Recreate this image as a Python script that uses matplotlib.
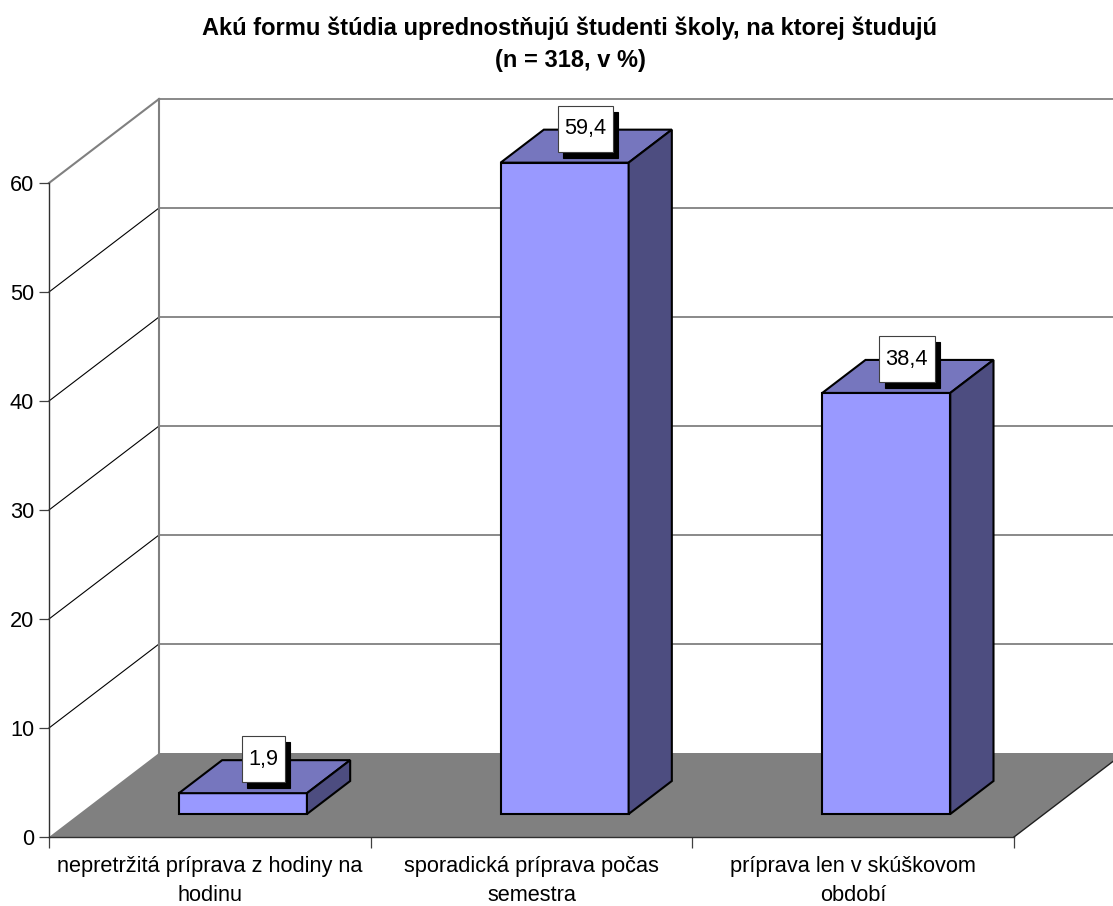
# to run: python3 plot.py
# Excel style 3D column chart, the depth is faked with an oblique projection.

import matplotlib
matplotlib.use('Agg')
from matplotlib import pyplot as plt
from matplotlib.patches import Rectangle

plt.rcParams['font.family'] = ['Liberation Sans', 'DejaVu Sans']

# data
title = 'Akú formu štúdia uprednostňujú študenti školy, na ktorej študujú\n(n = 318, v %)'
categories = ['nepretržitá príprava z hodiny na\nhodinu',
              'sporadická príprava počas\nsemestra',
              'príprava len v skúškovom\nobdobí']
values = [1.9, 59.4, 38.4]
labels = ['1,9', '59,4', '38,4']
y_ticks = [0, 10, 20, 30, 40, 50, 60]

# pixel geometry of the plot
W = 1113 ; H = 906
x0_px = 49.0 ; x3_px = 1014.0    # front floor edge
y0_px = 837.0 ; y60_px = 183.0   # front axis
px_x = (x3_px-x0_px) / 3.0
px_y = (y0_px-y60_px) / 60.0
depth_x = 110.0 / px_x           # whole depth of the floor in data units
depth_y = 84.0 / px_y

bar_w = 128.0 / px_x
bar_d = 33.0 / 84.0
bar_front = 23.0 / 84.0
bar_shift = 3.0 / px_x
bar_scale = 1.006

# colours
c_front = '#9999FF' ; c_top = '#7676BE' ; c_side = '#4D4D80'
c_wall = '#808080'

def proj(x, y, d):
    return x + d*depth_x, y + d*depth_y

fig = plt.figure(figsize=(W/100.0, H/100.0), dpi=100)
ax = fig.add_axes([0, 0, 1, 1])
ax.set_xlim(-x0_px/px_x, (W-x0_px)/px_x)
ax.set_ylim(-(H-y0_px)/px_y, y0_px/px_y)
ax.patch.set_alpha(0)

# floor
floor = [proj(0, 0, 0), proj(3, 0, 0), proj(3, 0, 1), proj(0, 0, 1)]
ax.fill(*zip(*floor), color=c_wall, lw=0, zorder=1)
ax.plot(*zip(proj(3, 0, 0), proj(3, 0, 1)), color='#202020', lw=1.0, zorder=1.5)

# walls and gridlines
for v in y_ticks[1:]:
    col = c_wall if v == y_ticks[-1] else 'black'
    lw = 1.5 if v == y_ticks[-1] else 0.8
    ax.plot(*zip(proj(0, v, 0), proj(0, v, 1)), color=col, lw=lw, zorder=1)
    ax.plot(*zip(proj(0, v, 1), proj(3, v, 1)), color=c_wall, lw=1.3, zorder=1)
ax.plot(*zip(proj(0, 0, 1), proj(0, y_ticks[-1], 1)), color=c_wall, lw=1.5, zorder=1)

# columns
renderer = fig.canvas.get_renderer()
for i, v in enumerate(values):
    h = v * bar_scale
    xl = i + 0.5 - bar_w/2.0 + bar_shift
    xr = xl + bar_w
    d1 = bar_front ; d2 = bar_front + bar_d
    base = proj(xl, 0, d1)
    ax.bar(base[0], h, width=bar_w, bottom=base[1], align='edge',
           color=c_front, edgecolor='black', lw=1.5, zorder=3)
    top = [proj(xl, h, d1), proj(xr, h, d1), proj(xr, h, d2), proj(xl, h, d2)]
    side = [proj(xr, 0, d1), proj(xr, 0, d2), proj(xr, h, d2), proj(xr, h, d1)]
    ax.fill(*zip(*top), facecolor=c_top, edgecolor='black', lw=1.5, zorder=3)
    ax.fill(*zip(*side), facecolor=c_side, edgecolor='black', lw=1.5, zorder=3)

    # value label with a hard shadow, box drawn in screen pixels
    cx, cy = proj(i + 0.5 + bar_shift, h, d1 + bar_d/2.0)
    t = ax.annotate(labels[i], (cx, cy), xytext=(-0.8, 12.5), textcoords='offset points',
                    ha='center', va='center', fontsize=15.7, color='black', zorder=7)
    bb = t.get_window_extent(renderer)
    mx = (bb.x0+bb.x1)/2.0 ; my = (bb.y0+bb.y1)/2.0
    bw = bb.width + 13 ; bh = 46
    ax.add_patch(Rectangle((mx-bw/2.0+5.5, my-bh/2.0-6), bw, bh, transform=None,
                           facecolor='black', edgecolor='black', lw=0.8, zorder=5))
    ax.add_patch(Rectangle((mx-bw/2.0, my-bh/2.0), bw, bh, transform=None,
                           facecolor='white', edgecolor='#404040', lw=0.8, zorder=6))

# axes
for s in ['top', 'right']:
    ax.spines[s].set_visible(False)
ax.spines['left'].set_position(('data', 0))
ax.spines['left'].set_bounds(0, y_ticks[-1])
ax.spines['bottom'].set_position(('data', 0))
ax.spines['bottom'].set_bounds(0, 3)
for s in ['left', 'bottom']:
    ax.spines[s].set_color('#303030')
    ax.spines[s].set_linewidth(1.0)
    ax.spines[s].set_zorder(2)

ax.set_yticks(y_ticks)
ax.tick_params(axis='y', length=7.2, width=0.9, color='#404040', labelsize=15.7, pad=3.5)
ax.set_xticks([0, 1, 2, 3])
ax.set_xticklabels([])
ax.tick_params(axis='x', which='major', length=8, width=0.9, color='#404040')
ax.set_xticks([0.5, 1.5, 2.5], minor=True)
ax.set_xticklabels(categories, minor=True, fontsize=15.7, linespacing=1.45)
ax.tick_params(axis='x', which='minor', length=0, pad=14)

ax.text(570.0/W, 1-44.0/H, title, transform=ax.transAxes, ha='center', va='center',
        fontsize=17, fontweight='bold', linespacing=1.5)

fig.savefig('out.png', dpi=100)
